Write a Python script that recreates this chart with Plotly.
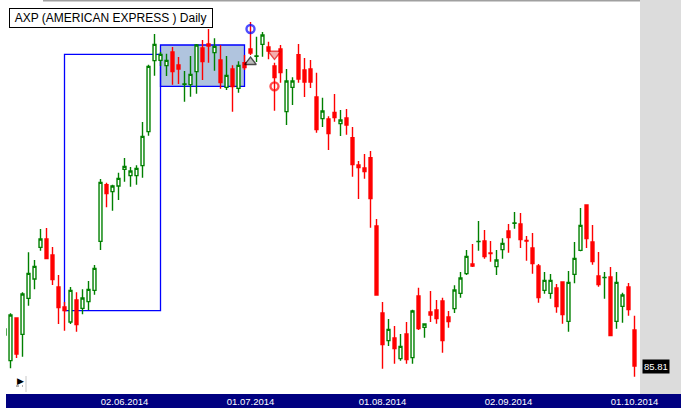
import plotly.graph_objects as go

# ---------------- data ----------------
dates = [
    "02.05.2014", "05.05.2014", "06.05.2014", "07.05.2014", "08.05.2014", "09.05.2014",
    "12.05.2014", "13.05.2014", "14.05.2014", "15.05.2014", "16.05.2014",
    "19.05.2014", "20.05.2014", "21.05.2014", "22.05.2014", "23.05.2014",
    "27.05.2014", "28.05.2014", "29.05.2014", "30.05.2014",
    "02.06.2014", "03.06.2014", "04.06.2014", "05.06.2014", "06.06.2014",
    "09.06.2014", "10.06.2014", "11.06.2014", "12.06.2014", "13.06.2014",
    "16.06.2014", "17.06.2014", "18.06.2014", "19.06.2014", "20.06.2014",
    "23.06.2014", "24.06.2014", "25.06.2014", "26.06.2014", "27.06.2014", "30.06.2014",
    "01.07.2014", "02.07.2014", "03.07.2014",
    "07.07.2014", "08.07.2014", "09.07.2014", "10.07.2014", "11.07.2014",
    "14.07.2014", "15.07.2014", "16.07.2014", "17.07.2014", "18.07.2014",
    "21.07.2014", "22.07.2014", "23.07.2014", "24.07.2014", "25.07.2014",
    "28.07.2014", "29.07.2014", "30.07.2014", "31.07.2014",
    "01.08.2014", "04.08.2014", "05.08.2014", "06.08.2014", "07.08.2014", "08.08.2014",
    "11.08.2014", "12.08.2014", "13.08.2014", "14.08.2014", "15.08.2014",
    "18.08.2014", "19.08.2014", "20.08.2014", "21.08.2014", "22.08.2014",
    "25.08.2014", "26.08.2014", "27.08.2014", "28.08.2014", "29.08.2014",
    "02.09.2014", "03.09.2014", "04.09.2014", "05.09.2014",
    "08.09.2014", "09.09.2014", "10.09.2014", "11.09.2014", "12.09.2014",
    "15.09.2014", "16.09.2014", "17.09.2014", "18.09.2014", "19.09.2014",
    "22.09.2014", "23.09.2014", "24.09.2014", "25.09.2014", "26.09.2014",
    "29.09.2014", "30.09.2014", "01.10.2014",
]

opens = [86.74, 85.97, 87.25, 86.76, 87.84, 88.42, 89.37, 89.62, 89.14, 88.18, 87.58,
         87.13, 87.79, 87.54, 87.74, 88.08, 89.55, 91.25, 91.04, 91.21, 91.71,
         91.52, 91.52, 91.82, 92.84, 94.97, 94.98, 94.82, 95.23, 94.84, 94.26,
         94.25, 94.64, 95.35, 95.47, 95.21, 94.99, 94.17, 94.72, 94.14, 94.91,
         95.32, 95.10, 95.46, 95.38, 94.81, 95.32, 93.44, 94.17, 95.15, 94.69,
         94.72, 93.88, 93.23, 93.22, 93.42, 93.08, 93.25, 92.66, 91.84, 91.75,
         92.06, 90.01, 87.40, 86.57, 86.65, 86.03, 86.77, 86.06, 87.91, 86.97,
         87.43, 87.49, 87.76, 87.28, 87.53, 87.99, 88.58, 88.87, 89.54, 89.56,
         89.20, 88.79, 89.30, 89.86, 90.09, 90.07, 89.58, 89.35, 88.81, 88.08,
         87.99, 88.15, 88.33, 87.15, 88.56, 89.28, 90.64, 89.53, 88.51, 88.46,
         88.48, 87.15, 87.60, 88.18, 86.89]

highs = [86.98, 87.39, 87.27, 88.02, 89.22, 88.99, 89.92, 89.95, 89.38, 88.54, 87.73,
         88.18, 88.02, 88.11, 88.36, 88.84, 91.42, 91.31, 91.25, 91.61, 92.05,
         91.78, 91.83, 93.13, 94.85, 95.77, 95.23, 95.18, 95.38, 95.08, 94.66,
         95.11, 95.47, 95.59, 95.92, 95.64, 95.44, 95.11, 94.83, 94.95, 95.14,
         96.13, 95.69, 95.83, 95.54, 94.91, 95.44, 94.72, 94.47, 95.47, 95.05,
         94.99, 94.61, 93.86, 93.30, 93.97, 93.49, 93.52, 92.98, 91.96, 92.17,
         92.26, 90.22, 87.73, 87.22, 87.01, 86.77, 87.13, 87.50, 88.16, 87.07,
         88.06, 87.79, 87.86, 87.46, 88.23, 88.63, 89.29, 89.47, 90.16, 89.89,
         89.56, 89.29, 89.64, 90.07, 90.43, 90.40, 89.71, 89.80, 88.87, 88.63,
         88.57, 88.27, 88.33, 88.66, 89.53, 90.55, 90.64, 90.04, 89.23, 88.63,
         88.78, 88.63, 88.01, 88.30, 87.32]

lows = [86.68, 85.74, 86.05, 86.09, 87.62, 88.11, 89.27, 89.01, 88.24, 87.07, 86.87,
        87.07, 86.84, 87.36, 87.49, 87.95, 89.29, 90.57, 90.47, 90.79, 91.34,
        91.19, 91.25, 91.46, 92.72, 94.52, 94.81, 94.51, 94.25, 94.27, 93.74,
        93.89, 93.98, 94.39, 94.91, 94.67, 94.13, 94.09, 93.44, 94.01, 94.69,
        95.14, 94.93, 95.09, 95.01, 93.47, 94.31, 93.04, 93.64, 94.31, 93.88,
        94.15, 92.81, 92.98, 92.29, 93.14, 92.71, 92.75, 91.49, 90.82, 91.43,
        89.96, 87.94, 85.73, 86.41, 85.88, 85.97, 85.88, 85.88, 86.89, 86.66,
        87.13, 87.08, 86.21, 86.96, 87.40, 87.86, 88.54, 88.78, 89.27, 89.03,
        88.94, 88.54, 89.03, 89.21, 89.93, 89.35, 88.97, 88.58, 87.71, 87.98,
        87.83, 87.41, 87.08, 86.84, 88.29, 89.25, 89.35, 88.85, 88.19, 87.83,
        86.72, 86.93, 87.11, 87.32, 85.49]

closes = [86.92, 87.34, 86.17, 87.97, 88.59, 88.80, 89.62, 89.03, 88.40, 87.56, 87.47,
          88.08, 87.05, 87.85, 88.11, 88.74, 91.32, 90.98, 91.21, 91.44, 91.80,
          91.66, 91.74, 92.70, 94.80, 95.46, 95.16, 94.98, 94.64, 94.72, 94.27,
          94.56, 95.44, 94.94, 95.41, 95.40, 94.31, 94.53, 94.19, 94.83, 94.76,
          95.20, 95.11, 95.74, 95.26, 94.46, 94.61, 94.36, 94.36, 94.42, 94.33,
          94.33, 92.90, 93.46, 92.78, 93.26, 93.19, 93.04, 91.85, 91.76, 91.64,
          90.83, 87.94, 86.45, 86.91, 86.33, 86.40, 86.00, 87.46, 86.93, 87.07,
          87.34, 87.23, 86.57, 87.14, 88.09, 88.45, 89.10, 88.81, 89.55, 89.09,
          89.18, 88.99, 89.49, 89.66, 90.10, 89.60, 89.56, 88.88, 87.86, 88.38,
          88.38, 87.59, 87.35, 88.32, 89.04, 90.03, 89.63, 88.94, 88.25, 88.47,
          86.72, 88.32, 87.94, 87.50, 85.81]

label_dates = ["02.06.2014", "01.07.2014", "01.08.2014", "02.09.2014", "01.10.2014"]

# trend box (outline) and consolidation box (filled)
trend_box = ["16.05.2014", "10.06.2014"]
range_box_dates = ["10.06.2014", "30.06.2014"]
range_box_prices = [94.20, 95.44]

# signal markers
sig_dates = ["01.07.2014", "01.07.2014", "08.07.2014", "08.07.2014"]
sig_prices = [95.92, 94.93, 95.17, 94.20]
sig_symbols = ["circle-open", "triangle-up", "triangle-down", "circle-open"]
sig_fill = ["#0000FF", "#A0A0A0", "#F08C8C", "#FF0000"]
sig_line = ["#0000FF", "#000000", "#E00000", "#FF0000"]
sig_size = [8, 10, 11, 8]
sig_width = [2.4, 1.3, 1.3, 2.4]

# ---------------- layout geometry ----------------
W, H = 681, 408
ML, MR, MT, MB = 6, 41, 0, 14
PW = W - ML - MR
PH = H - MT - MB
y_lo, y_hi = 84.97, 96.79
x_lo, x_hi = 0.25, 105.917

fig = go.Figure()

fig.add_trace(go.Candlestick(
    x=dates, open=opens, high=highs, low=lows, close=closes,
    increasing=dict(line=dict(color="#008000", width=1.4), fillcolor="#FFFFFF"),
    decreasing=dict(line=dict(color="#FF0000", width=1.4), fillcolor="#FF0000"),
    showlegend=False,
))

fig.add_trace(go.Scatter(
    x=sig_dates, y=sig_prices, mode="markers",
    marker=dict(symbol=sig_symbols, size=sig_size, color=sig_fill,
                line=dict(color=sig_line, width=sig_width)),
    showlegend=False, hoverinfo="skip",
))

i0 = dates.index(trend_box[0])
i1 = dates.index(trend_box[1])
j0 = dates.index(range_box_dates[0])
j1 = dates.index(range_box_dates[1])

shapes = [
    dict(type="rect", xref="x", yref="y", x0=j0, x1=j1,
         y0=range_box_prices[0], y1=range_box_prices[1],
         fillcolor="#B0C4DE", line=dict(color="#0000FF", width=1.3), layer="below"),
    dict(type="rect", xref="x", yref="y", x0=i0, x1=i1,
         y0=closes[i0], y1=closes[i1],
         fillcolor="rgba(0,0,0,0)", line=dict(color="#0000FF", width=1.3), layer="below"),
    dict(type="rect", xref="paper", yref="paper", x0=1, x1=(W - ML) / PW,
         y0=0, y1=1, fillcolor="#DCDCDC", line=dict(width=0), layer="below"),
    dict(type="rect", xref="paper", yref="paper", x0=0, x1=(W - ML) / PW,
         y0=-MB / PH, y1=0, fillcolor="#000080", line=dict(width=0), layer="below"),
    dict(type="line", xref="paper", yref="paper", x0=(43 - ML) / PW, x1=1,
         y0=1 - 0.8 / PH, y1=1 - 0.8 / PH, line=dict(color="#A0A0A0", width=1.6)),
    # small separator next to the scroll icon
    dict(type="line", xref="paper", yref="paper", x0=(26 - ML) / PW, x1=(26 - ML) / PW,
         y0=(PH - 392) / PH, y1=(PH - 376) / PH, line=dict(color="#C8C8C8", width=1)),
    dict(type="line", xref="paper", yref="paper", x0=(16 - ML) / PW, x1=(23 - ML) / PW,
         y0=(PH - 386) / PH, y1=(PH - 386) / PH,
         line=dict(color="#606060", width=1, dash="dot")),
]

annotations = [
    dict(text=" AXP (AMERICAN EXPRESS ) Daily ", xref="paper", yref="paper",
         x=(8.5 - ML) / PW, y=1 - 8 / PH, xanchor="left", yanchor="top",
         showarrow=False, bgcolor="#FFFFFF", bordercolor="#000000",
         borderwidth=1, borderpad=2,
         font=dict(family="Liberation Sans", size=12, color="#000000")),
    dict(text="%.2f" % closes[-1], xref="paper", yref="y",
         x=1 + 2 / PW, y=closes[-1], xanchor="left", yanchor="middle",
         showarrow=False, bgcolor="#000000", borderpad=1,
         font=dict(family="Liberation Sans", size=9.5, color="#FFFFFF")),
    dict(text="▶", xref="paper", yref="paper",
         x=(20 - ML) / PW, y=(PH - 381) / PH, xanchor="center", yanchor="middle",
         showarrow=False, font=dict(family="DejaVu Sans", size=9, color="#000000")),
]

fig.update_layout(
    width=W, height=H,
    margin=dict(l=ML, r=MR, t=MT, b=MB, pad=0),
    paper_bgcolor="#FFFFFF", plot_bgcolor="#FFFFFF",
    shapes=shapes, annotations=annotations,
    showlegend=False,
    xaxis=dict(type="category", categoryorder="array", categoryarray=dates,
               range=[x_lo, x_hi], rangeslider=dict(visible=False),
               showgrid=False, zeroline=False, showline=False, ticks="",
               tickmode="array", tickvals=label_dates, ticktext=label_dates,
               tickangle=0,
               tickfont=dict(family="Liberation Sans", size=9.5, color="#FFFFFF"),
               ticklabelstandoff=0, fixedrange=True),
    yaxis=dict(range=[y_lo, y_hi], visible=False, showgrid=False,
               zeroline=False, fixedrange=True),
)

fig.write_html(
    "out.html",
    config={"displayModeBar": False, "staticPlot": True},
    post_script="document.body.style.margin='0px';document.body.style.overflow='hidden';",
)
